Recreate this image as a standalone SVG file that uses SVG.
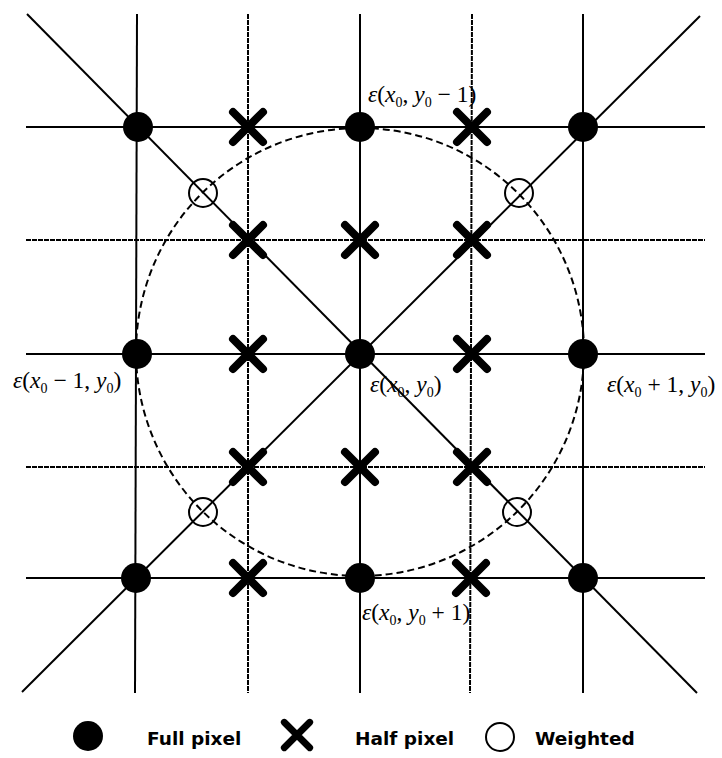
<svg xmlns="http://www.w3.org/2000/svg" width="722" height="758" viewBox="0 0 722 758">
<style>
.ln{stroke:#000;stroke-width:2;fill:none}
.hf{stroke:#000;stroke-width:2;fill:none;stroke-dasharray:5 1}
.dc{stroke:#000;stroke-width:2;fill:none;stroke-dasharray:7 4}
.full{fill:#000}
.half{stroke:#000;stroke-width:8;stroke-linecap:round;fill:none}
.wt{stroke:#000;stroke-width:2;fill:#fff;fill-opacity:0}
.m{font-family:"Liberation Serif","Times New Roman",serif;font-size:23.5px;fill:#000}
.it{font-style:italic}
.lg{font-family:"DejaVu Sans",sans-serif;font-size:18.5px;font-weight:bold;fill:#000}
</style>
<defs>
<path id="xm" d="M-15,-15L15,15M15,-15L-15,15"/>
</defs>
<rect width="722" height="758" fill="#fff"/>
<g id="connectors">
<line class="ln" x1="26" y1="127" x2="705" y2="127"/>
<line class="hf" x1="26" y1="240" x2="705" y2="240"/>
<line class="ln" x1="26" y1="354" x2="705" y2="354"/>
<line class="hf" x1="26" y1="467" x2="705" y2="467"/>
<line class="ln" x1="26" y1="578" x2="705" y2="578"/>
<line class="ln" x1="137" y1="14" x2="135" y2="693"/>
<line class="hf" x1="248" y1="14" x2="248" y2="693"/>
<line class="ln" x1="360" y1="14" x2="360" y2="693"/>
<line class="hf" x1="472" y1="14" x2="470" y2="693"/>
<line class="ln" x1="583" y1="14" x2="583" y2="693"/>
<line class="ln" x1="27" y1="14" x2="697" y2="693"/>
<line class="ln" x1="700" y1="16" x2="22" y2="692"/>
<circle class="dc" cx="360" cy="352" r="224"/>
</g>
<g id="full-pixels">
<circle class="full" cx="138" cy="127" r="15"/>
<circle class="full" cx="360" cy="127" r="15"/>
<circle class="full" cx="583" cy="127" r="15"/>
<circle class="full" cx="137" cy="354" r="15"/>
<circle class="full" cx="360" cy="354" r="15"/>
<circle class="full" cx="583" cy="354" r="15"/>
<circle class="full" cx="136" cy="578" r="15"/>
<circle class="full" cx="360" cy="578" r="15"/>
<circle class="full" cx="583" cy="578" r="15"/>
</g>
<g id="half-pixels">
<use href="#xm" class="half" x="248" y="127"/>
<use href="#xm" class="half" x="472" y="127"/>
<use href="#xm" class="half" x="248" y="240"/>
<use href="#xm" class="half" x="360" y="240"/>
<use href="#xm" class="half" x="472" y="240"/>
<use href="#xm" class="half" x="248" y="354"/>
<use href="#xm" class="half" x="472" y="354"/>
<use href="#xm" class="half" x="248" y="467"/>
<use href="#xm" class="half" x="360" y="467"/>
<use href="#xm" class="half" x="472" y="467"/>
<use href="#xm" class="half" x="248" y="578"/>
<use href="#xm" class="half" x="471" y="578"/>
</g>
<g id="weighted">
<circle class="wt" cx="203" cy="193" r="14"/>
<circle class="wt" cx="519" cy="193" r="14"/>
<circle class="wt" cx="203" cy="512" r="14"/>
<circle class="wt" cx="517" cy="512" r="14"/>
</g>
<g id="labels">
<text class="m" x="368" y="102"><tspan class="it">ε</tspan>(<tspan class="it">x</tspan><tspan dy="5" font-size="14">0</tspan><tspan dy="-5">, </tspan><tspan class="it">y</tspan><tspan dy="5" font-size="14">0</tspan><tspan dy="-5"> − 1)</tspan></text>
<text class="m" x="13" y="388"><tspan class="it">ε</tspan>(<tspan class="it">x</tspan><tspan dy="5" font-size="14">0</tspan><tspan dy="-5"> − 1, </tspan><tspan class="it">y</tspan><tspan dy="5" font-size="14">0</tspan><tspan dy="-5">)</tspan></text>
<text class="m" x="370" y="392"><tspan class="it">ε</tspan>(<tspan class="it">x</tspan><tspan dy="5" font-size="14">0</tspan><tspan dy="-5">, </tspan><tspan class="it">y</tspan><tspan dy="5" font-size="14">0</tspan><tspan dy="-5">)</tspan></text>
<text class="m" x="607" y="392"><tspan class="it">ε</tspan>(<tspan class="it">x</tspan><tspan dy="5" font-size="14">0</tspan><tspan dy="-5"> + 1, </tspan><tspan class="it">y</tspan><tspan dy="5" font-size="14">0</tspan><tspan dy="-5">)</tspan></text>
<text class="m" x="362" y="620"><tspan class="it">ε</tspan>(<tspan class="it">x</tspan><tspan dy="5" font-size="14">0</tspan><tspan dy="-5">, </tspan><tspan class="it">y</tspan><tspan dy="5" font-size="14">0</tspan><tspan dy="-5"> + 1)</tspan></text>
</g>
<g id="legend">
<circle class="full" cx="88" cy="736" r="15"/>
<text class="lg" x="147" y="745">Full pixel</text>
<use href="#xm" class="half" x="297" y="735" transform="translate(297,735) scale(0.85) translate(-297,-735)"/>
<text class="lg" x="355" y="745">Half pixel</text>
<circle class="wt" cx="500" cy="737" r="14"/>
<text class="lg" x="535" y="745">Weighted</text>
</g>
</svg>
